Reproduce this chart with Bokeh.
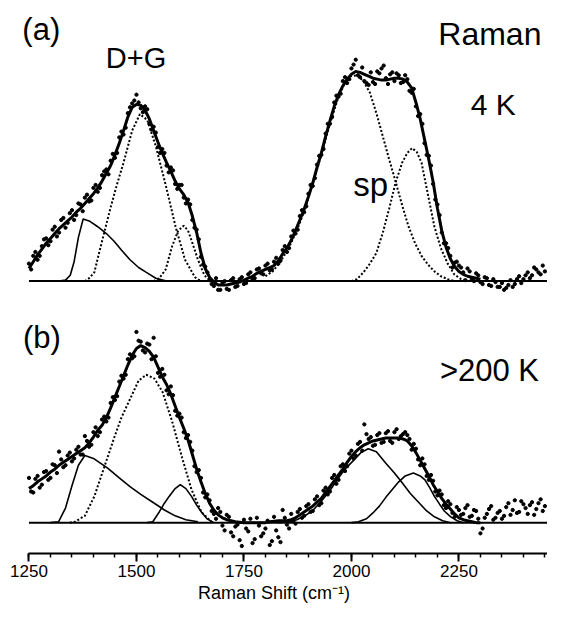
from bokeh.plotting import figure
from bokeh.layouts import column
from bokeh.models import Label, SingleIntervalTicker, Range1d
from bokeh.embed import file_html
from bokeh.resources import INLINE

# ---------------- data (Raman shift in cm^-1, intensity in arbitrary units) -------------
GRID = list(range(1250, 2451, 10))
GRID2 = list(range(1255, 2446, 10))

DOTS_A = [1.8, 2.6, 2.2, 3.6, 4.4, 4.1, 5.6, 5.0, 6.5, 6.0, 7.3, 6.8, 7.9, 8.6, 8.2, 9.6, 9.2,
          10.9, 11.5, 12.4, 12.7, 14.8, 15.1, 17.3, 18.3, 19.2, 17.8, 18.0, 16.2, 15.9, 13.8,
          13.6, 11.9, 11.7, 10.0, 9.9, 8.6, 8.4, 6.3, 5.3, 2.5, 1.5, 0.1, -0.5, -0.9, -0.2,
          -0.8, 0.1, -0.6, 0.2, -0.3, 0.7, 0.2, 1.2, 0.8, 1.6, 1.1, 2.0, 1.8, 3.2, 3.0, 4.6,
          4.9, 6.7, 7.1, 9.0, 9.8, 12.0, 13.0, 15.2, 16.2, 18.4, 19.0, 20.6, 20.4, 21.9, 22.8,
          21.0, 20.6, 20.2, 20.5, 21.6, 21.9, 20.9, 21.3, 20.6, 21.2, 20.5, 20.8, 19.4, 18.0,
          17.2, 14.2, 12.9, 10.0, 7.9, 5.0, 3.9, 2.6, 1.9, 1.6, 0.9, 1.3, 0.2, 0.8, -0.1, 0.4,
          -0.4, 0.2, -0.6, -0.2, -0.7, 0.1, -0.3, 0.5, 0.2, 0.9, 0.6, 1.2, 0.7, 1.0]
DOTS_A2 = [1.2, 3.0, 2.6, 4.3, 3.7, 5.3, 4.6, 6.3, 5.5, 7.0, 6.3, 8.0, 7.2, 8.9, 8.3, 9.9,
           9.6, 11.3, 11.0, 13.1, 13.2, 15.4, 15.8, 17.9, 18.6, 18.4, 17.4, 17.7, 15.6, 15.3,
           13.2, 13.2, 11.2, 11.4, 9.5, 9.9, 8.0, 7.9, 5.5, 4.3, 1.7, 0.9, -0.3, 0.3, -0.9,
           0.0, -0.9, 0.3, -0.5, 0.4, -0.2, 0.9, 0.3, 1.3, 0.7, 1.8, 1.2, 2.4, 2.1, 3.6, 3.4,
           5.2, 5.3, 7.3, 7.7, 9.9, 10.6, 12.9, 13.6, 16.2, 16.9, 19.1, 19.3, 21.0, 20.8, 22.3,
           21.2, 22.0, 20.4, 21.5, 20.3, 21.4, 22.2, 20.3, 21.5, 21.4, 20.4, 21.2, 19.6, 19.8,
           17.0, 16.2, 13.0, 11.9, 8.4, 6.8, 3.9, 3.4, 1.4, 2.0, 1.4, 0.1, 1.0, 0.0, 0.6, -0.3,
           0.3, -0.5, -0.1, -0.6, -0.9, -0.4, -0.6, 0.2, -0.2, 0.6, 0.3, 1.4, 0.9, 1.6]

DOTS_B = [4.6, 3.1, 4.8, 3.9, 5.3, 4.6, 5.9, 7.3, 5.7, 6.9, 6.3, 7.5, 7.0, 8.9, 7.8, 9.3, 8.9,
          10.6, 10.4, 12.3, 12.6, 14.5, 14.8, 16.8, 16.9, 19.6, 18.6, 17.5, 18.3, 19.0, 15.4,
          15.8, 13.6, 14.0, 11.5, 11.2, 9.3, 9.0, 7.4, 5.2, 4.6, 2.6, 2.3, 0.9, 1.5, -0.3,
          0.8, -1.0, -0.4, -1.8, 0.3, -0.9, -2.1, 0.5, -1.4, -0.6, -2.3, 0.6, -1.5, 1.3, -0.2,
          0.9, -0.1, 1.4, 0.7, 1.9, 1.2, 2.7, 2.0, 3.6, 3.2, 4.9, 4.4, 6.0, 5.8, 7.4, 6.9, 8.3,
          10.1, 8.6, 7.9, 9.0, 8.2, 9.2, 8.4, 9.3, 8.6, 9.1, 9.0, 7.5, 7.6, 5.9, 6.0, 4.4, 4.3,
          2.8, 2.9, 1.5, 1.9, 0.6, 1.3, 0.9, 1.8, 0.7, 1.2, -1.1, 0.5, 1.4, 0.3, 1.0, 0.4, 1.6,
          0.8, 2.3, 1.1, 1.9, 0.9, 2.1, 1.4, 2.4, 1.7]
DOTS_B2 = [3.2, 4.5, 3.6, 5.2, 4.4, 6.0, 5.1, 6.5, 5.9, 7.2, 6.6, 7.8, 7.0, 8.4, 8.0, 9.8,
           9.3, 10.9, 10.8, 12.9, 13.0, 15.1, 15.2, 17.3, 17.1, 18.7, 17.7, 18.4, 16.8, 17.1,
           15.0, 15.2, 13.2, 13.1, 11.0, 10.8, 8.7, 8.3, 5.8, 5.4, 3.1, 2.9, 1.2, 0.4, 1.1,
           -0.8, 0.6, -1.4, -0.2, -2.4, -0.6, 0.4, -1.7, -0.3, -1.1, 0.2, -1.9, -0.8, -2.0, 0.5,
           -0.6, 0.2, 1.1, 0.5, 1.7, 1.1, 2.4, 1.8, 3.3, 2.9, 4.6, 4.0, 5.8, 5.3, 7.1, 6.6, 8.1,
           7.4, 9.1, 8.8, 8.0, 9.2, 8.3, 9.4, 8.2, 9.6, 8.9, 9.3, 8.6, 8.1, 6.5, 6.6, 4.8, 4.9,
           3.2, 3.3, 1.8, 2.2, 1.0, 1.6, 0.8, 1.5, 0.6, 1.3, 0.4, -0.6, 0.9, 1.7, 0.5, 1.2, 0.7,
           2.0, 1.3, 1.0, 2.2, 1.5, 1.8, 0.8, 2.0, 1.2]

FIT_A_X = list(range(1250, 2301, 10))
FIT_A = [1.3, 2.0, 2.7, 3.3, 3.9, 4.4, 4.9, 5.4, 5.8, 6.2, 6.6, 7.1, 7.5, 8.0, 8.5, 9.0, 9.6,
         10.3, 11.1, 11.9, 13.0, 14.2, 15.5, 16.9, 17.9, 18.2, 18.1, 17.6, 16.7, 15.5, 14.3,
         13.2, 12.2, 11.3, 10.3, 9.5, 8.9, 8.1, 6.7, 5.0, 2.9, 1.3, 0.4, -0.1, -0.4, -0.4,
         -0.4, -0.3, -0.2, -0.1, 0.1, 0.3, 0.5, 0.8, 1.0, 1.2, 1.4, 1.6, 2.1, 2.8, 3.4, 4.2,
         5.2, 6.3, 7.4, 8.7, 10.1, 11.7, 13.2, 14.9, 16.5, 18.0, 19.2, 20.1, 20.8, 21.3, 21.6,
         21.5, 21.3, 21.1, 20.9, 20.8, 20.7, 20.7, 20.8, 20.9, 20.9, 20.8, 20.5, 19.9, 18.4,
         16.7, 14.6, 12.5, 10.2, 7.5, 5.2, 3.5, 2.3, 1.5, 1.0, 0.7, 0.5, 0.4, 0.3, 0.2]

FIT_B_X = list(range(1250, 2301, 10))
FIT_B = [3.5, 3.8, 4.2, 4.5, 4.8, 5.2, 5.5, 5.9, 6.2, 6.5, 6.8, 7.1, 7.4, 7.7, 8.2, 8.8, 9.5,
         10.0, 10.8, 11.8, 12.9, 14.0, 15.1, 16.2, 17.2, 17.9, 18.2, 18.0, 17.6, 17.0, 16.0,
         15.0, 14.2, 13.2, 12.0, 10.8, 9.7, 8.5, 7.0, 5.5, 4.2, 3.0, 2.0, 1.3, 0.8, 0.5, 0.3,
         0.2, 0.1, 0.05, 0.0, 0.0, 0.0, 0.0, 0.0, 0.0, 0.1, 0.15, 0.2, 0.2, 0.2, 0.3, 0.5,
         0.8, 1.1, 1.4, 1.7, 2.1, 2.5, 3.1, 3.7, 4.3, 4.9, 5.5, 6.2, 6.8, 7.3, 7.7, 8.0, 8.2,
         8.4, 8.5, 8.6, 8.7, 8.7, 8.7, 8.7, 8.6, 8.4, 7.9, 7.2, 6.4, 5.6, 4.8, 3.9, 3.2, 2.5,
         1.9, 1.4, 0.9, 0.5, 0.3, 0.2, 0.1, 0.0, 0.0]

# component bands, panel (a)
DA_X = [1320, 1335, 1346, 1355, 1365, 1376, 1390, 1410, 1430, 1448, 1465, 1485, 1505, 1523, 1545, 1570]
DA_Y = [0.0, 0.1, 0.6, 2.0, 4.5, 6.4, 6.2, 5.6, 4.9, 4.1, 3.2, 2.2, 1.4, 0.9, 0.3, 0.0]
GA_X = [1380, 1390, 1402, 1417, 1440, 1455, 1470, 1490, 1508, 1525, 1545, 1568, 1591, 1613, 1636, 1650]
GA_Y = [0.0, 0.3, 0.9, 3.6, 7.6, 10.0, 12.2, 15.5, 17.2, 16.6, 13.9, 9.9, 5.6, 2.2, 0.4, 0.0]
D2A_X = [1540, 1553, 1568, 1583, 1597, 1610, 1620, 1628, 1643, 1658, 1673]
D2A_Y = [0.0, 0.3, 1.2, 3.6, 5.2, 5.7, 5.2, 4.2, 2.2, 0.6, 0.0]
SP1A_X = [1800, 1817, 1835, 1854, 1873, 1892, 1911, 1930, 1950, 1967, 1983, 1998, 2013, 2028,
          2043, 2058, 2073, 2088, 2103, 2118, 2133, 2148, 2163, 2178, 2193, 2208, 2224, 2240]
SP1A_Y = [0.5, 1.0, 2.0, 3.4, 5.2, 7.4, 10.2, 13.0, 16.2, 18.6, 20.3, 21.1, 21.2, 20.6,
          19.4, 17.3, 14.9, 12.5, 10.2, 7.8, 5.6, 3.9, 2.6, 1.7, 1.0, 0.5, 0.2, 0.0]
SP2A_X = [2000, 2013, 2028, 2043, 2058, 2073, 2088, 2103, 2118, 2130, 2141, 2152, 2163, 2178,
          2193, 2208, 2224, 2239, 2255, 2270]
SP2A_Y = [0.0, 0.2, 0.9, 1.8, 2.9, 5.0, 7.5, 10.2, 12.2, 13.2, 13.7, 13.3, 12.2, 8.9,
          5.6, 3.4, 1.8, 0.7, 0.2, 0.0]

# component bands, panel (b)
DB_X = [1300, 1319, 1335, 1350, 1365, 1380, 1400, 1433, 1460, 1485, 1510, 1538, 1565, 1590, 1615, 1643]
DB_Y = [0.0, 0.1, 1.5, 3.8, 5.9, 6.9, 6.6, 5.6, 4.6, 3.7, 2.9, 2.1, 1.3, 0.7, 0.3, 0.1]
GB_X = [1345, 1357, 1380, 1402, 1425, 1448, 1465, 1485, 1505, 1523, 1542, 1561, 1583, 1606, 1628, 1651, 1674]
GB_Y = [0.0, 0.1, 0.7, 2.7, 5.7, 8.7, 10.8, 12.7, 14.6, 15.2, 14.8, 13.4, 10.4, 6.7, 3.4, 1.1, 0.1]
D2B_X = [1525, 1538, 1553, 1565, 1576, 1590, 1602, 1615, 1628, 1640, 1651, 1664, 1680]
D2B_Y = [0.0, 0.1, 1.1, 2.0, 2.7, 3.5, 3.9, 3.5, 2.7, 1.8, 1.1, 0.4, 0.0]
SP1B_X = [1830, 1854, 1873, 1892, 1911, 1930, 1950, 1967, 1985, 2005, 2022, 2039, 2058, 2080,
          2100, 2118, 2137, 2156, 2175, 2193, 2212, 2231]
SP1B_Y = [0.0, 0.1, 0.3, 0.7, 1.3, 2.2, 3.3, 4.4, 5.5, 6.4, 7.2, 7.6, 7.3, 6.1, 5.1, 4.1,
          3.0, 2.1, 1.2, 0.6, 0.2, 0.0]
SP2B_X = [2000, 2013, 2035, 2050, 2065, 2080, 2095, 2110, 2125, 2144, 2160, 2171, 2182, 2193,
          2205, 2216, 2231, 2246, 2260]
SP2B_Y = [0.0, 0.05, 0.4, 1.0, 1.7, 2.6, 3.4, 4.2, 4.8, 5.1, 4.8, 4.4, 3.6, 2.7, 1.9, 1.2,
          0.6, 0.2, 0.0]

BASE_X = [1250, 2460]
BASE_Y = [0, 0]

TICK_INTERVAL = 250
X_LABEL = "Raman Shift (cm\u207b\u00b9)"

# ---------------- styling ----------------
FONT = "Liberation Sans"
W = 547
x_range = Range1d(1183.8, 2456)

def make_fig(height, y_range, **kw):
    p = figure(width=W, height=height, x_range=x_range, y_range=y_range,
               output_backend="svg", toolbar_location=None,
               min_border_left=0, min_border_right=0, min_border_top=0,
               y_axis_location=None, **kw)
    p.grid.visible = False
    p.outline_line_color = None
    p.background_fill_color = "white"
    p.border_fill_color = "white"
    return p

def draw(p, dots, dots2, fx, fy, comps):
    p.line(BASE_X, BASE_Y, line_color="black", line_width=2)
    for cx, cy, dotted in comps:
        if dotted:
            p.line(cx, cy, line_color="black", line_width=2, line_dash="2 2")
        else:
            p.line(cx, cy, line_color="black", line_width=1.6)
    p.scatter(GRID, dots, size=3.3, color="black")
    p.scatter(GRID2, dots2, size=3.3, color="black")
    p.line(fx, fy, line_color="black", line_width=3)

def label(p, x, y, text, size):
    p.add_layout(Label(x=x, y=y, text=text, text_font=FONT, text_font_size=f"{size}px",
                       text_align="center", text_baseline="middle", text_color="black"))

top = make_fig(301, Range1d(-2.1, 28.9), x_axis_location=None, min_border_bottom=0)
draw(top, DOTS_A, DOTS_A2, FIT_A_X, FIT_A,
     [(DA_X, DA_Y, False), (GA_X, GA_Y, True), (D2A_X, D2A_Y, True),
      (SP1A_X, SP1A_Y, True), (SP2A_X, SP2A_Y, True)])
label(top, 1278.7, 25.9, "(a)", 31)
label(top, 1499, 23.0, "D+G", 29)
label(top, 2322, 25.4, "Raman", 32)
label(top, 2330, 18.2, "4 K", 30)
label(top, 2045, 10.0, "sp", 33)

bot = make_fig(306, Range1d(-3.17, 22.73), min_border_bottom=54)
draw(bot, DOTS_B, DOTS_B2, FIT_B_X, FIT_B,
     [(DB_X, DB_Y, False), (GB_X, GB_Y, True), (D2B_X, D2B_Y, False),
      (SP1B_X, SP1B_Y, False), (SP2B_X, SP2B_Y, False)])
label(bot, 1280, 19.0, "(b)", 31)
label(bot, 2321, 15.6, ">200 K", 31)

ax = bot.xaxis[0]
ax.ticker = SingleIntervalTicker(interval=TICK_INTERVAL, num_minor_ticks=5)
ax.bounds = (1250, 2460)
ax.axis_line_width = 2
ax.axis_line_color = "black"
ax.major_tick_in = 0
ax.major_tick_out = 8
ax.major_tick_line_width = 2
ax.minor_tick_in = 0
ax.minor_tick_out = 4
ax.minor_tick_line_width = 1.5
ax.major_label_text_font = FONT
ax.major_label_text_font_size = "17px"
ax.major_label_text_color = "black"
ax.major_label_standoff = 3
ax.axis_label = X_LABEL
ax.axis_label_text_font = FONT
ax.axis_label_text_font_size = "18px"
ax.axis_label_text_font_style = "normal"
ax.axis_label_text_color = "black"
ax.axis_label_standoff = 3

layout = column(top, bot, spacing=0)
open("out.html", "w").write(file_html(layout, INLINE))
